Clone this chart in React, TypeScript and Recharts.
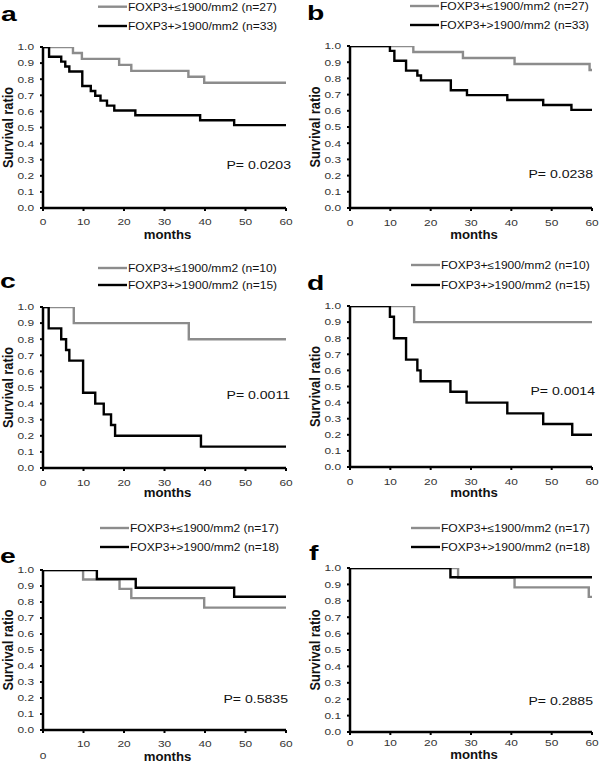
import React from "react";
import { LineChart, Line, XAxis, YAxis } from "recharts";

// x ticks (months) and y ticks (survival ratio)
const X_TICKS = [0, 10, 20, 30, 40, 50, 60];
const Y_TICKS = [0, 0.1, 0.2, 0.3, 0.4, 0.5, 0.6, 0.7, 0.8, 0.9, 1.0];

// a
const aLowT = [0, 7.4, 9.6, 18.8, 21.8, 35.9, 39.8, 60];
const aLowS = [1, 0.963, 0.926, 0.889, 0.852, 0.815, 0.778, 0.778];
const aHighT = [0, 1.5, 4.5, 5.5, 6.5, 9.7, 11.8, 12.9, 14.2, 15.8, 17.6, 22.8, 38.8, 47.2, 60];
const aHighS = [1, 0.939, 0.909, 0.879, 0.848, 0.758, 0.727, 0.697, 0.667, 0.636, 0.606, 0.576, 0.545, 0.515, 0.515];

// b
const bLowT = [0, 15.7, 28, 40.8, 59.4, 60];
const bLowS = [1, 0.963, 0.926, 0.889, 0.852, 0.852];
const bHighT = [0, 9.9, 11, 13.9, 16.7, 17.6, 25, 29, 39, 47.9, 54.9, 60];
const bHighS = [1, 0.97, 0.909, 0.848, 0.818, 0.788, 0.727, 0.697, 0.667, 0.636, 0.606, 0.606];

// c
const cLowT = [0, 7.6, 36, 60];
const cLowS = [1, 0.9, 0.8, 0.8];
const cHighT = [0, 1.4, 4.5, 5.7, 6.5, 9.9, 12.9, 15, 16.8, 17.8, 39, 60];
const cHighS = [1, 0.867, 0.8, 0.733, 0.667, 0.467, 0.4, 0.333, 0.267, 0.2, 0.133, 0.133];

// d
const dLowT = [0, 15.9, 60];
const dLowS = [1, 0.9, 0.9];
const dHighT = [0, 9.9, 10.9, 13.9, 16.7, 17.5, 24.9, 28.9, 39, 47.9, 55.1, 60];
const dHighS = [1, 0.933, 0.8, 0.667, 0.6, 0.533, 0.467, 0.4, 0.333, 0.267, 0.2, 0.2];

// e
const eLowT = [0, 9.9, 18.9, 21.8, 39.8, 60];
const eLowS = [1, 0.941, 0.882, 0.824, 0.765, 0.765];
const eHighT = [0, 13.3, 22.9, 47.2, 60];
const eHighS = [1, 0.944, 0.889, 0.833, 0.833];

// f
const fLowT = [0, 26.8, 40.8, 59.2, 60];
const fLowS = [1, 0.941, 0.882, 0.824, 0.824];
const fHighT = [0, 24.9, 60];
const fHighS = [1, 0.944, 0.944];

const LETTERS = ["a", "b", "c", "d", "e", "f"];
const N_LOW = [27, 27, 10, 10, 17, 17];
const N_HIGH = [33, 33, 15, 15, 18, 18];
const P_VALUES = ["0.0203", "0.0238", "0.0011", "0.0014", "0.5835", "0.2885"];

const toPoints = (t: number[], s: number[]) => t.map((m, i) => ({ t: m, s: s[i] }));

const SERIES = [
  [toPoints(aLowT, aLowS), toPoints(aHighT, aHighS)],
  [toPoints(bLowT, bLowS), toPoints(bHighT, bHighS)],
  [toPoints(cLowT, cLowS), toPoints(cHighT, cHighS)],
  [toPoints(dLowT, dLowS), toPoints(dHighT, dHighS)],
  [toPoints(eLowT, eLowS), toPoints(eHighT, eHighS)],
  [toPoints(fLowT, fLowS), toPoints(fHighT, fHighS)],
];

// layout (page px): panel origin, plot box [l, t, r, b], legend, letter, p-value,
// tick label offset below axis, "months" baseline offset
const LAYOUT = [
  { ox: 0, oy: 0, plot: [43, 47, 286, 208], leg: [98, 6.7, 26], letter: [1, 21], p: [291, 169], tDy: 17, mDy: 31 },
  { ox: 300, oy: 0, plot: [350, 46, 592, 208], leg: [410, 6, 25], letter: [307, 20], p: [593, 178], tDy: 18, mDy: 31 },
  { ox: 0, oy: 250, plot: [43, 307, 286, 468], leg: [98, 268, 285], letter: [0, 288], p: [290, 399], tDy: 18, mDy: 29 },
  { ox: 300, oy: 250, plot: [350, 306, 592, 467], leg: [411, 265, 285], letter: [307, 290], p: [595, 395], tDy: 18, mDy: 30 },
  { ox: 0, oy: 500, plot: [43, 570, 286, 730], leg: [100, 528, 547], letter: [0, 563], p: [288, 703], tDy: 17, mDy: 31, zeroDrop: 12 },
  { ox: 300, oy: 500, plot: [350, 568, 592, 732], leg: [411, 528, 547], letter: [309, 560], p: [593, 705], tDy: 14, mDy: 27 },
];

const W = 300;
const H = 263;
const YW = 34;
const XH = 30;
const SX = 1.28; // horizontal stretch of the original figure
const LSX = 1.15; // legend text stretch
const FONT = "'Liberation Sans', Arial, sans-serif";
const GRAY = "#8c8c8c";

const YTick = (props: any) => {
  const { x, y, payload } = props;
  return (
    <g transform={`translate(${x},${y}) scale(${SX},1)`}>
      <text x={0} y={0} dy={3.3} textAnchor="end" fontFamily={FONT} fontSize={9.3} fill="#333">
        {Number(payload.value).toFixed(1)}
      </text>
    </g>
  );
};

const makeXTick = (dy: number, zeroDrop: number) => (props: any) => {
  const { x, y, payload } = props;
  const extra = payload.value === 0 ? zeroDrop : 0;
  // y arrives at axis + tickSize + tickMargin (7)
  return (
    <g transform={`translate(${x},${y - 7 + dy + extra}) scale(${SX},1)`}>
      <text x={0} y={0} textAnchor="middle" fontFamily={FONT} fontSize={9.3} fill="#333">
        {payload.value}
      </text>
    </g>
  );
};

const makeMonths = (dy: number) => (props: any) => {
  const vb = props.viewBox || {};
  const cx = vb.x + vb.width / 2 + 3;
  return (
    <g transform={`translate(${cx},${vb.y + dy}) scale(1.1,1)`}>
      <text x={0} y={0} textAnchor="middle" fontFamily={FONT} fontWeight="bold" fontSize={12} fill="#111">
        months
      </text>
    </g>
  );
};

const SurvivalLabel = (props: any) => {
  const vb = props.viewBox || {};
  const cx = vb.x + vb.width - 34.5;
  const cy = vb.y + vb.height / 2;
  return (
    <g transform={`translate(${cx},${cy}) scale(1.12,1) rotate(-90)`}>
      <text x={0} y={4.4} textAnchor="middle" fontFamily={FONT} fontWeight="bold" fontSize={12.8} fill="#111">
        Survival ratio
      </text>
    </g>
  );
};

const Panel = ({ idx }: { idx: number }) => {
  const L = LAYOUT[idx];
  const [pl, pt, pr, pb] = L.plot;
  const margin = {
    left: pl - L.ox - YW,
    right: L.ox + W - pr,
    top: pt - L.oy,
    bottom: L.oy + H - pb - XH,
  };
  const [low, high] = SERIES[idx];
  return (
    <div style={{ position: "absolute", left: L.ox, top: L.oy }}>
      <LineChart width={W} height={H} margin={margin}>
        <XAxis
          type="number"
          dataKey="t"
          domain={[0, 60]}
          ticks={X_TICKS}
          interval={0}
          height={XH}
          tickSize={3}
          tickMargin={4}
          axisLine={{ stroke: "#000", strokeWidth: 2.5 }}
          tickLine={{ stroke: "#000", strokeWidth: 2 }}
          tick={makeXTick(L.tDy, L.zeroDrop || 0)}
          label={{ content: makeMonths(L.mDy) }}
          allowDataOverflow
        />
        <YAxis
          type="number"
          dataKey="s"
          domain={[0, 1]}
          ticks={Y_TICKS}
          interval={0}
          width={YW}
          tickSize={3}
          tickMargin={6}
          axisLine={{ stroke: "#000", strokeWidth: 2.5 }}
          tickLine={{ stroke: "#000", strokeWidth: 2 }}
          tick={<YTick />}
          label={{ content: SurvivalLabel }}
          allowDataOverflow
        />
        <Line
          data={low}
          dataKey="s"
          type="stepAfter"
          stroke={GRAY}
          strokeWidth={2.4}
          dot={false}
          activeDot={false}
          isAnimationActive={false}
        />
        <Line
          data={high}
          dataKey="s"
          type="stepAfter"
          stroke="#000"
          strokeWidth={2.4}
          dot={false}
          activeDot={false}
          isAnimationActive={false}
        />
      </LineChart>
    </div>
  );
};

const Overlay = () => (
  <svg
    width={600}
    height={763}
    style={{ position: "absolute", left: 0, top: 0, pointerEvents: "none" }}
  >
    {LAYOUT.map((L, i) => {
      const [sx, y1, y2] = L.leg;
      const rows = [
        { y: y1, color: GRAY, label: `FOXP3+≤1900/mm2 (n=${N_LOW[i]})` },
        { y: y2, color: "#000", label: `FOXP3+>1900/mm2 (n=${N_HIGH[i]})` },
      ];
      return (
        <g key={LETTERS[i]}>
          {rows.map((r) => (
            <g key={r.label}>
              <line x1={sx} x2={sx + 29} y1={r.y} y2={r.y} stroke={r.color} strokeWidth={2.4} />
              <g transform={`translate(${sx + 30},${r.y + 4}) scale(${LSX},1)`}>
                <text x={0} y={0} fontFamily={FONT} fontSize={10.5} fill="#111">
                  {r.label}
                </text>
              </g>
            </g>
          ))}
          <g transform={`translate(${L.letter[0]},${L.letter[1]}) scale(1.35,1)`}>
            <text x={0} y={0} fontFamily={FONT} fontWeight="bold" fontSize={21} fill="#000">
              {LETTERS[i]}
            </text>
          </g>
          <g transform={`translate(${L.p[0]},${L.p[1]}) scale(${SX},1)`}>
            <text x={0} y={0} textAnchor="end" fontFamily={FONT} fontSize={11} fill="#111">
              {`P= ${P_VALUES[i]}`}
            </text>
          </g>
        </g>
      );
    })}
  </svg>
);

export default function App() {
  return (
    <div
      style={{
        position: "absolute",
        left: 0,
        top: 0,
        width: 600,
        height: 763,
        background: "#fff",
        overflow: "hidden",
      }}
    >
      {LAYOUT.map((_, i) => (
        <Panel key={i} idx={i} />
      ))}
      <Overlay />
    </div>
  );
}
